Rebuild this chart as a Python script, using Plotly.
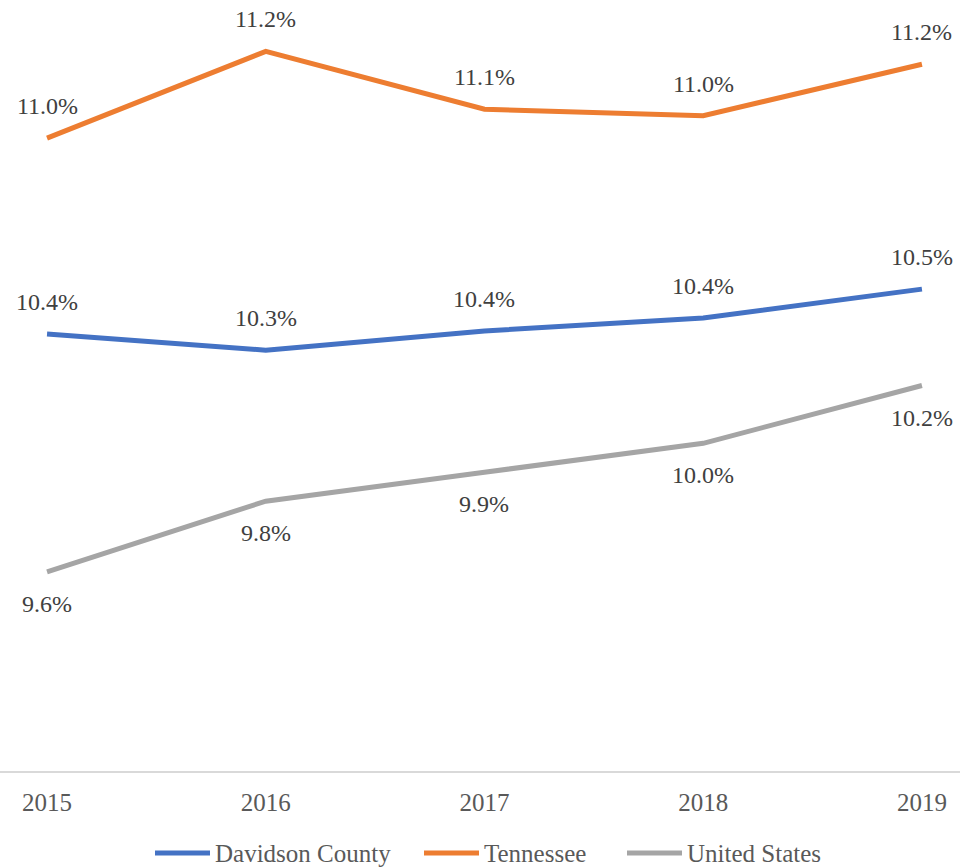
import plotly.graph_objects as go

years = ["2015", "2016", "2017", "2018", "2019"]
davidson = [10.36, 10.31, 10.37, 10.41, 10.50]
tennessee = [10.97, 11.24, 11.06, 11.04, 11.20]
united_states = [9.62, 9.84, 9.93, 10.02, 10.20]

series = [
    ("Davidson County", davidson, "#4472C4", 1),
    ("Tennessee", tennessee, "#ED7D31", 1),
    ("United States", united_states, "#A5A5A5", -1),
]

W, H = 960, 868
MB = 97
PLOT_H = H - MB
# legend layout (pixel positions of the legend line starts)
legend_line_x = [155, 424, 627]
LEGEND_LINE_LEN = 55
LEGEND_Y = (PLOT_H - 853) / PLOT_H  # paper coordinate of legend row centre

FONT = "Liberation Serif"
fig = go.Figure()
annotations = []
shapes = []
for (name, vals, color, side), lx in zip(series, legend_line_x):
    fig.add_trace(go.Scatter(
        x=list(range(len(years))), y=vals, name=name, mode="lines",
        line=dict(color=color, width=5), hoverinfo="skip", showlegend=False,
    ))
    for i, v in enumerate(vals):
        annotations.append(dict(
            x=i, y=v, xref="x", yref="y", text=f"{v:.1f}%", showarrow=False,
            yshift=32 * side, font=dict(family=FONT, size=24, color="#404040"),
            xanchor="center", yanchor="middle",
        ))
    # legend entry
    shapes.append(dict(
        type="line", xref="paper", yref="paper",
        x0=lx / W, x1=(lx + LEGEND_LINE_LEN) / W, y0=LEGEND_Y, y1=LEGEND_Y,
        line=dict(color=color, width=5), layer="above",
    ))
    annotations.append(dict(
        x=(lx + LEGEND_LINE_LEN + 3) / W, y=LEGEND_Y, xref="paper", yref="paper",
        text=name, showarrow=False, xanchor="left", yanchor="middle",
        font=dict(family=FONT, size=25, color="#595959"),
    ))

fig.update_layout(
    width=W, height=H,
    margin=dict(l=0, r=0, t=0, b=MB, autoexpand=False),
    paper_bgcolor="white", plot_bgcolor="white",
    showlegend=False,
    annotations=annotations,
    shapes=shapes,
    xaxis=dict(
        tickmode="array", tickvals=list(range(len(years))), ticktext=years,
        range=[-0.215, 4.174], showgrid=False, zeroline=False,
        showline=True, linecolor="#D9D9D9", linewidth=2,
        ticks="", ticklabelstandoff=8, automargin=False,
        tickfont=dict(family=FONT, size=25, color="#595959"),
    ),
    yaxis=dict(range=[9.0, 11.4], visible=False, showgrid=False, zeroline=False,
               automargin=False),
)

fig.write_html(
    "out.html",
    config={"displayModeBar": False, "staticPlot": True},
    post_script="document.body.style.margin='0';document.body.style.overflow='hidden';",
)
